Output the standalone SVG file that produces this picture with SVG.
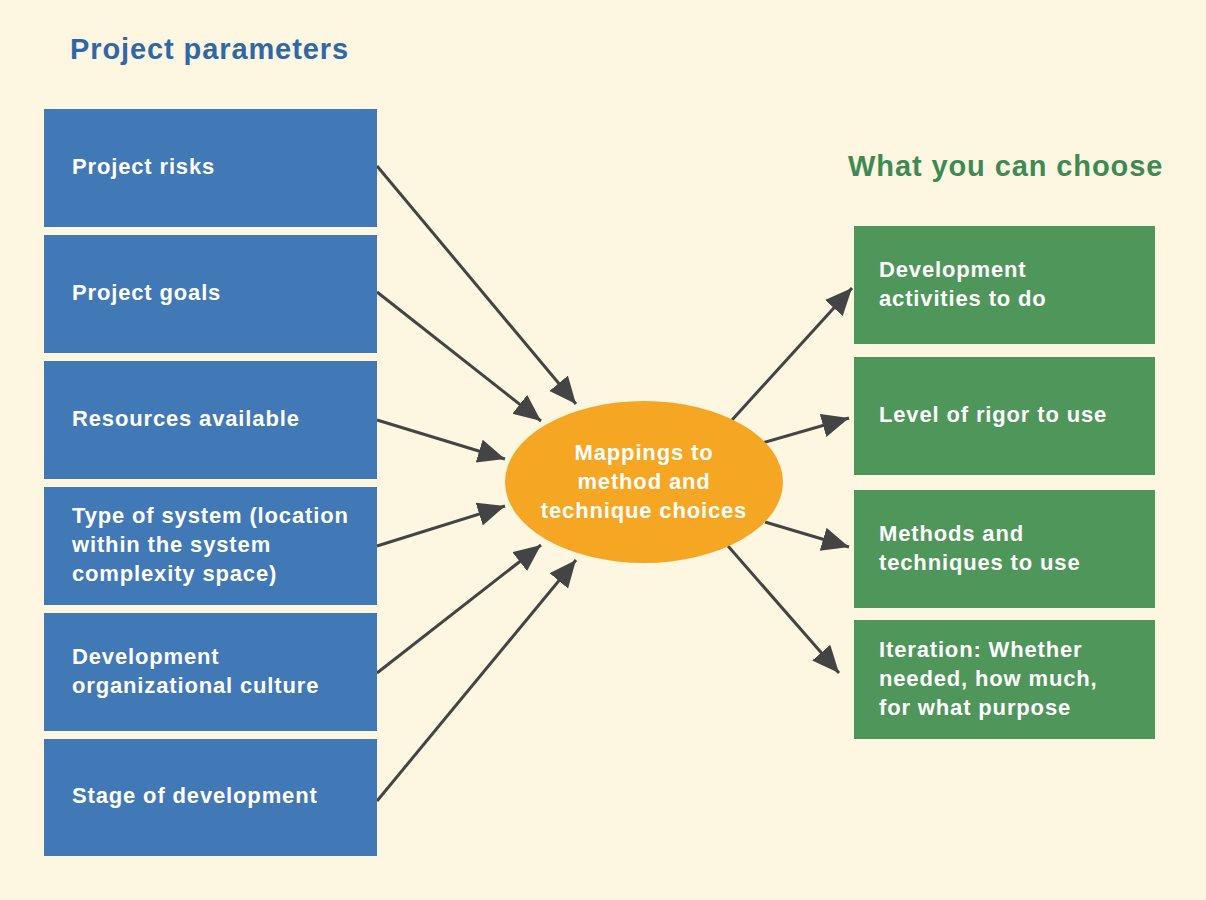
<svg xmlns="http://www.w3.org/2000/svg" width="1206" height="900" viewBox="0 0 1206 900">
<defs>
<style>
.bg{fill:#FDF6E0}
.blue{fill:#4178B6}
.green{fill:#4E9659}
.t{font-family:"Liberation Sans",Arial,sans-serif;font-weight:bold;font-size:22px;letter-spacing:0.85px;fill:#FFFFFF}
.h1{font-family:"Liberation Sans",Arial,sans-serif;font-weight:bold;font-size:29px;letter-spacing:0.9px}
.c{stroke:#444444;stroke-width:3;fill:none;marker-end:url(#ah)}
</style>
<marker id="ah" markerUnits="userSpaceOnUse" markerWidth="30" markerHeight="26" refX="27" refY="12" orient="auto">
<path d="M0,0 L27,12 L0,24 Z" fill="#444444"/>
</marker>
</defs>
<rect class="bg" x="0" y="0" width="1206" height="900"/>
<text class="h1" x="70" y="59" fill="#2F68A8">Project parameters</text>
<text class="h1" x="848" y="176" fill="#3E8A55">What you can choose</text>

<g id="connectors">
<line class="c" x1="377" y1="166" x2="576" y2="404"/>
<line class="c" x1="377" y1="292" x2="541" y2="421"/>
<line class="c" x1="377" y1="420" x2="505" y2="459"/>
<line class="c" x1="377" y1="546" x2="505" y2="506"/>
<line class="c" x1="377" y1="673" x2="541" y2="545"/>
<line class="c" x1="377" y1="801" x2="576" y2="560"/>
<line class="c" x1="732" y1="420" x2="852" y2="288"/>
<line class="c" x1="762" y1="443" x2="849" y2="418"/>
<line class="c" x1="765" y1="522" x2="849" y2="547"/>
<line class="c" x1="728" y1="546" x2="839" y2="673"/>
</g>

<g id="n-risks"><rect class="blue" x="44" y="109" width="333" height="118"/><text class="t" x="72" y="174">Project risks</text></g>
<g id="n-goals"><rect class="blue" x="44" y="235" width="333" height="118"/><text class="t" x="72" y="300">Project goals</text></g>
<g id="n-resources"><rect class="blue" x="44" y="361" width="333" height="118"/><text class="t" x="72" y="426">Resources available</text></g>
<g id="n-type"><rect class="blue" x="44" y="487" width="333" height="118"/><text class="t" x="72" y="523">Type of system (location</text><text class="t" x="72" y="552">within the system</text><text class="t" x="72" y="581">complexity space)</text></g>
<g id="n-culture"><rect class="blue" x="44" y="613" width="333" height="118"/><text class="t" x="72" y="664">Development</text><text class="t" x="72" y="693">organizational culture</text></g>
<g id="n-stage"><rect class="blue" x="44" y="739" width="333" height="117"/><text class="t" x="72" y="803">Stage of development</text></g>

<g id="n-mapping"><ellipse cx="644" cy="482" rx="139" ry="81" fill="#F5A623"/>
<text class="t" text-anchor="middle" x="644" y="460">Mappings to</text>
<text class="t" text-anchor="middle" x="644" y="489">method and</text>
<text class="t" text-anchor="middle" x="644" y="518">technique choices</text></g>

<g id="n-activities"><rect class="green" x="854" y="226" width="301" height="118"/><text class="t" x="879" y="277">Development</text><text class="t" x="879" y="306">activities to do</text></g>
<g id="n-rigor"><rect class="green" x="854" y="357" width="301" height="118"/><text class="t" x="879" y="422">Level of rigor to use</text></g>
<g id="n-methods"><rect class="green" x="854" y="490" width="301" height="118"/><text class="t" x="879" y="541">Methods and</text><text class="t" x="879" y="570">techniques to use</text></g>
<g id="n-iteration"><rect class="green" x="854" y="620" width="301" height="119"/><text class="t" x="879" y="657">Iteration: Whether</text><text class="t" x="879" y="686">needed, how much,</text><text class="t" x="879" y="715">for what purpose</text></g>
</svg>
